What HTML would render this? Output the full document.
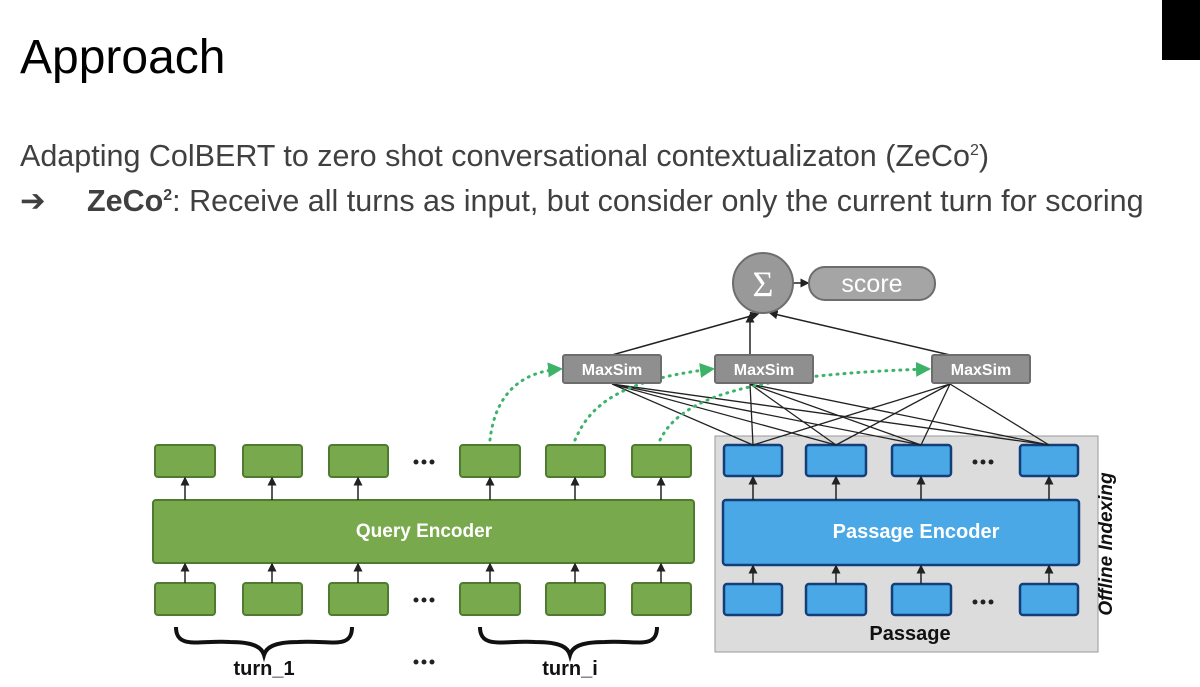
<!DOCTYPE html>
<html><head><meta charset="utf-8"><style>
body{margin:0;width:1200px;height:687px;background:#fff;overflow:hidden;position:relative;font-family:"Liberation Sans",sans-serif}
.t{position:absolute;left:20px;top:30px;font-size:48px;color:#000}
.s{position:absolute;left:20px;font-size:30.5px;color:#404040;white-space:nowrap}
svg{position:absolute;left:0;top:0}
</style></head><body>
<div style="position:absolute;left:1162px;top:0;width:38px;height:60px;background:#000"></div>
<div class="t">Approach</div>
<div class="s" style="top:139px">Adapting ColBERT to zero shot conversational contextualizaton (ZeCo<sup style="font-size:16px">2</sup>)</div>
<div class="s" style="top:184px"><span style="display:inline-block;width:67px">➔</span><b>ZeCo<sup style="font-size:16px">2</sup></b>: Receive all turns as input, but consider only the current turn for scoring</div>
<svg width="1200" height="687" font-family="Liberation Sans, sans-serif">
<defs>
<marker id="a" markerWidth="6" markerHeight="6" refX="5" refY="3" orient="auto"><path d="M0,0L6,3L0,6z" fill="#222"/></marker>
<marker id="g" markerWidth="5" markerHeight="5" refX="4" refY="2.5" orient="auto"><path d="M0,0L5,2.5L0,5z" fill="#3db36a"/></marker>
</defs>
<rect x="715" y="436" width="383" height="216" fill="#dcdcdc" stroke="#9a9a9a"/>
<g fill="#78a94c" stroke="#4f7a30" stroke-width="2">
<rect x="155" y="445" width="60" height="32" rx="3"/><rect x="243" y="445" width="59" height="32" rx="3"/><rect x="329" y="445" width="59" height="32" rx="3"/><rect x="460" y="445" width="60" height="32" rx="3"/><rect x="546" y="445" width="59" height="32" rx="3"/><rect x="632" y="445" width="59" height="32" rx="3"/>
<rect x="155" y="583" width="60" height="32" rx="3"/><rect x="243" y="583" width="59" height="32" rx="3"/><rect x="329" y="583" width="59" height="32" rx="3"/><rect x="460" y="583" width="60" height="32" rx="3"/><rect x="546" y="583" width="59" height="32" rx="3"/><rect x="632" y="583" width="59" height="32" rx="3"/>
<rect x="153" y="500" width="541" height="63" rx="3"/>
</g>
<g fill="#4ba8e6" stroke="#123f7a" stroke-width="2.5">
<rect x="724" y="445" width="58" height="31" rx="3"/><rect x="806" y="445" width="60" height="31" rx="3"/><rect x="892" y="445" width="59" height="31" rx="3"/><rect x="1020" y="445" width="58" height="31" rx="3"/>
<rect x="724" y="584" width="58" height="31" rx="3"/><rect x="806" y="584" width="60" height="31" rx="3"/><rect x="892" y="584" width="59" height="31" rx="3"/><rect x="1020" y="584" width="58" height="31" rx="3"/>
<rect x="723" y="500" width="356" height="65" rx="3"/>
</g>
<g stroke="#222" stroke-width="1.5" marker-end="url(#a)">
<line x1="185" y1="500" x2="185" y2="478"/><line x1="272" y1="500" x2="272" y2="478"/><line x1="358" y1="500" x2="358" y2="478"/><line x1="490" y1="500" x2="490" y2="478"/><line x1="575" y1="500" x2="575" y2="478"/><line x1="661" y1="500" x2="661" y2="478"/>
<line x1="185" y1="583" x2="185" y2="564"/><line x1="272" y1="583" x2="272" y2="564"/><line x1="358" y1="583" x2="358" y2="564"/><line x1="490" y1="583" x2="490" y2="564"/><line x1="575" y1="583" x2="575" y2="564"/><line x1="661" y1="583" x2="661" y2="564"/>
<line x1="753" y1="500" x2="753" y2="477"/><line x1="836" y1="500" x2="836" y2="477"/><line x1="921" y1="500" x2="921" y2="477"/><line x1="1049" y1="500" x2="1049" y2="477"/>
<line x1="753" y1="584" x2="753" y2="566"/><line x1="836" y1="584" x2="836" y2="566"/><line x1="921" y1="584" x2="921" y2="566"/><line x1="1049" y1="584" x2="1049" y2="566"/>
<line x1="612" y1="355" x2="758" y2="314"/><line x1="750" y1="355" x2="750" y2="315"/><line x1="950" y1="355" x2="770" y2="313"/>
<line x1="793" y1="283" x2="808" y2="283"/>
</g>
<g stroke="#222" stroke-width="1.3" fill="none">
<path d="M612,384L753,445M612,384L836,445M612,384L921,445M612,384L1049,445M750,384L753,445M750,384L836,445M750,384L921,445M750,384L1049,445M950,384L753,445M950,384L836,445M950,384L921,445M950,384L1049,445"/>
</g>
<g stroke="#3db36a" stroke-width="3" stroke-dasharray="1 6" stroke-linecap="round" fill="none" marker-end="url(#g)">
<path d="M490,440 C495,395 520,372 560,369"/>
<path d="M575,440 C590,405 620,380 712,369"/>
<path d="M660,440 C680,400 740,375 928,369"/>
</g>
<g fill="#8f8f8f" stroke="#6d6d6d" stroke-width="2">
<rect x="563" y="355" width="98" height="28" rx="2"/><rect x="715" y="355" width="98" height="28" rx="2"/><rect x="932" y="355" width="98" height="28" rx="2"/>
<circle cx="763" cy="283" r="30" fill="#999"/>
<rect x="809" y="267" width="126" height="33" rx="16" fill="#a5a5a5"/>
</g>
<g fill="#fff" font-weight="bold" font-size="16" text-anchor="middle">
<text x="612" y="375">MaxSim</text><text x="764" y="375">MaxSim</text><text x="981" y="375">MaxSim</text>
<text x="424" y="537" font-size="19">Query Encoder</text><text x="916" y="538" font-size="20">Passage Encoder</text>
</g>
<text x="763" y="296" fill="#fff" font-size="36" text-anchor="middle" font-family="Liberation Serif, serif">Σ</text>
<text x="872" y="292" fill="#fff" font-size="25" text-anchor="middle">score</text>
<g fill="#222">
<circle cx="416" cy="462" r="2.5"/><circle cx="424" cy="462" r="2.5"/><circle cx="432" cy="462" r="2.5"/>
<circle cx="416" cy="600" r="2.5"/><circle cx="424" cy="600" r="2.5"/><circle cx="432" cy="600" r="2.5"/>
<circle cx="416" cy="662" r="2.5"/><circle cx="424" cy="662" r="2.5"/><circle cx="432" cy="662" r="2.5"/>
<circle cx="975" cy="462" r="2.5"/><circle cx="983" cy="462" r="2.5"/><circle cx="991" cy="462" r="2.5"/>
<circle cx="975" cy="602" r="2.5"/><circle cx="983" cy="602" r="2.5"/><circle cx="991" cy="602" r="2.5"/>
</g>
<g stroke="#111" stroke-width="4" fill="none">
<path d="M176,627 C176,650 200,640 230,642 C255,642 262,648 264,655 C266,648 273,642 298,642 C330,640 352,650 352,627"/>
<path d="M480,627 C480,650 505,640 535,642 C562,642 568,648 570,655 C572,648 578,642 605,642 C635,640 657,650 657,627"/>
</g>
<g fill="#111" font-weight="bold" font-size="20" text-anchor="middle">
<text x="264" y="675">turn_1</text><text x="570" y="675">turn_i</text><text x="910" y="640">Passage</text>
<text transform="translate(1112,544) rotate(-90)" font-style="italic" font-size="19">Offline Indexing</text>
</g>
</svg>
</body></html>
